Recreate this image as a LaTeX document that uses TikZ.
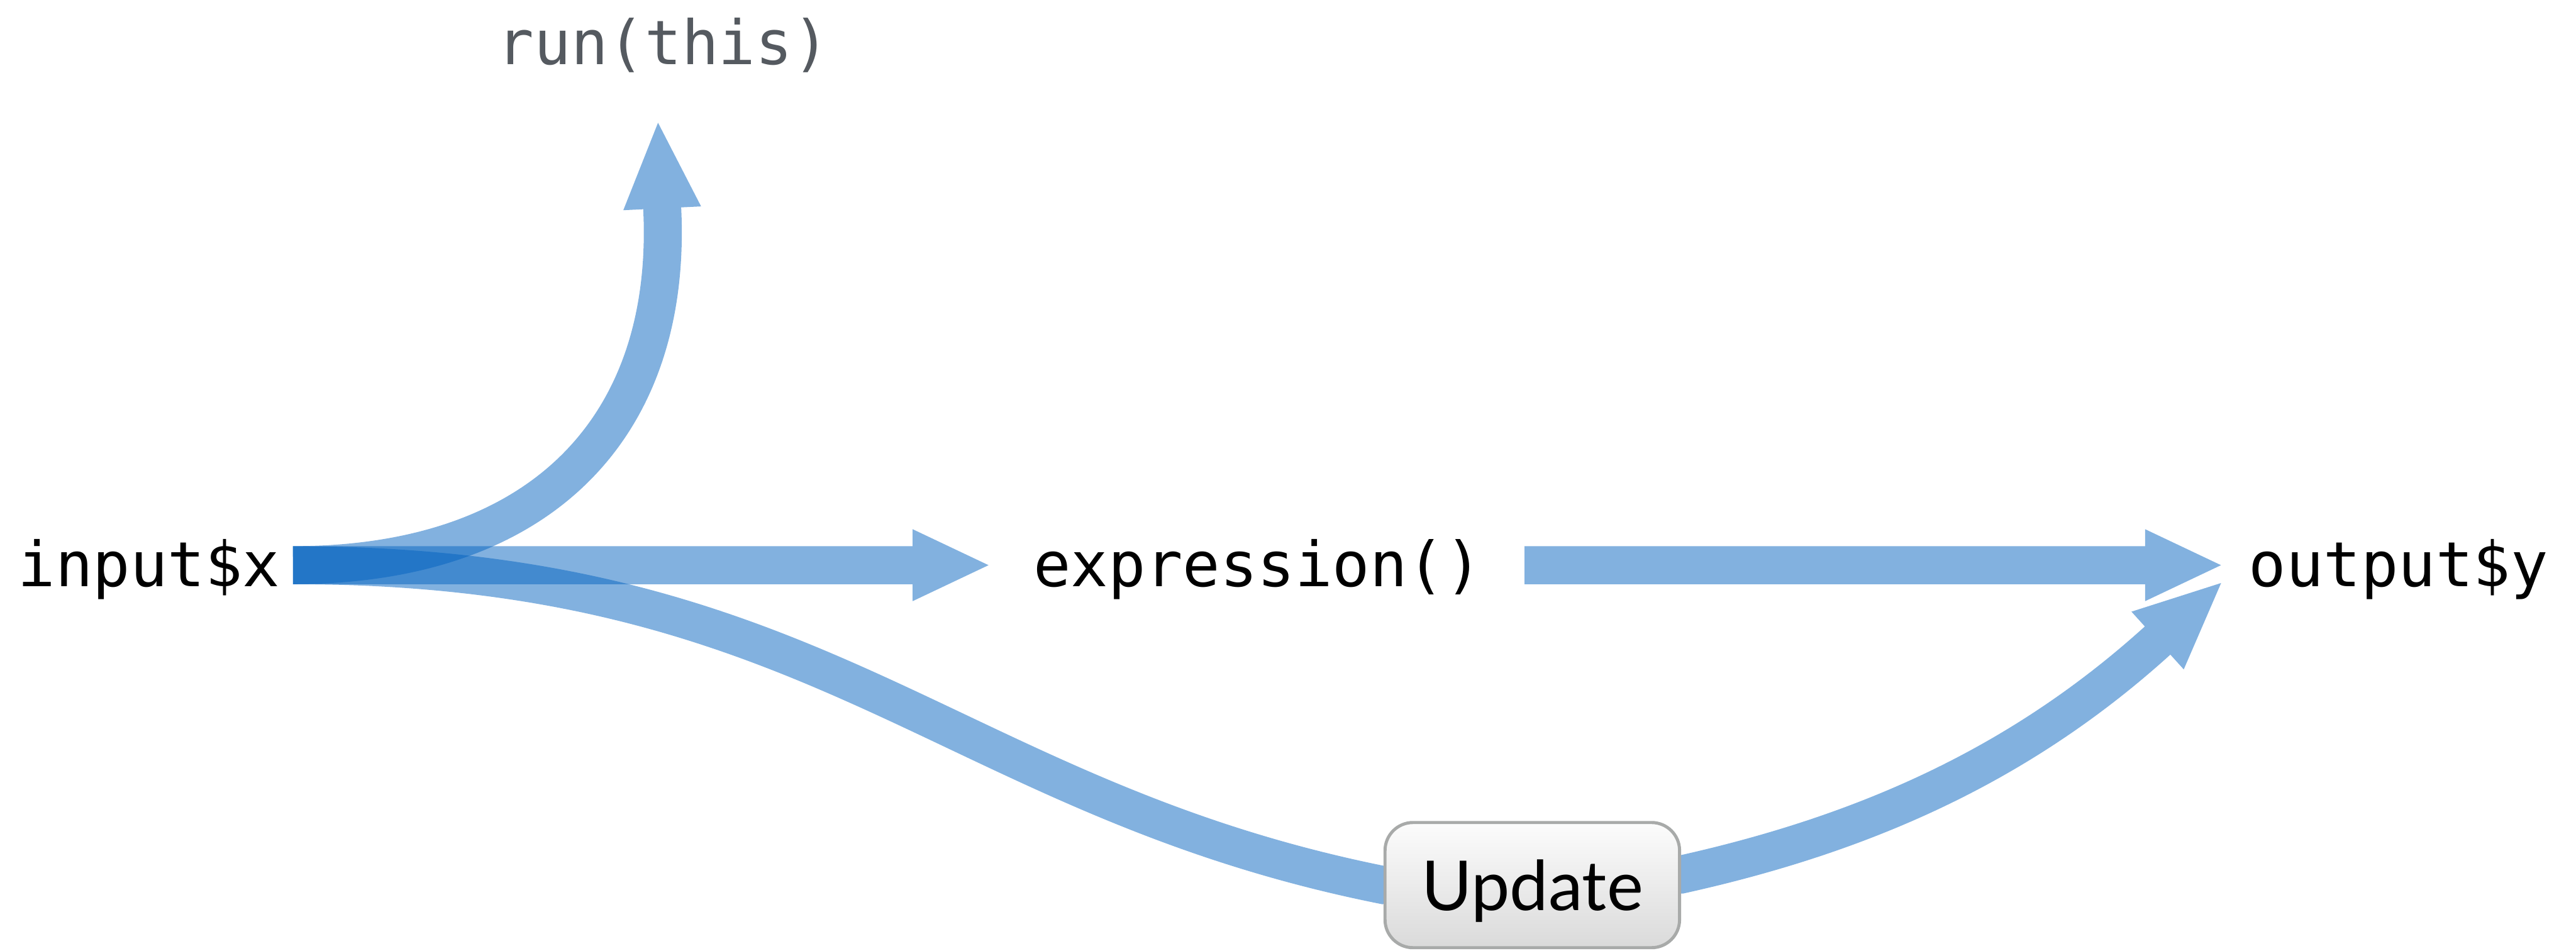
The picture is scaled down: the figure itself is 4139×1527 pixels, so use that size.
\documentclass[tikz,border=0pt]{standalone}
\usepackage{fontspec}
\setmonofont{DejaVu Sans Mono}
\newfontfamily\btnfont{Lato}
\usetikzlibrary{arrows.meta, backgrounds}
\definecolor{flowblue}{RGB}{5,99,191}
\definecolor{rungray}{RGB}{85,90,96}
\definecolor{btnline}{RGB}{168,170,169}
\definecolor{btntop}{RGB}{252,252,252}
\definecolor{btnbot}{RGB}{218,218,218}

\begin{document}
\begin{tikzpicture}[x=0.01cm, y=-0.01cm,
  code/.style={font=\ttfamily\fontsize{28.4}{30}\selectfont, text height=0.68cm, text depth=0pt, inner ysep=0pt, inner xsep=0.2cm},
  flow/.style={draw=flowblue, line width=0.61cm, -{Triangle[length=1.26cm, width=1.05cm]}},
  bend flow/.style={flow, -{Triangle[length=1.43cm, width=1.13cm]}},
  button/.style={rounded corners=0.45cm, draw=btnline, line width=0.05cm, top color=btntop, bottom color=btnbot,
    minimum width=4.73cm, minimum height=2.01cm, font=\btnfont\fontsize{31.5}{33}\selectfont, text height=0.82cm, text depth=0pt}]
  \useasboundingbox (0,0) rectangle (4139,1527);

  % source, conductor, endpoint
  \node[code] (in) at (239.5,908) {input\$x};
  \node[code, inner xsep=0.67cm] (ex) at (2021,908) {expression()};
  \node[code, inner xsep=0.4cm] (out) at (3854,908) {output\$y};
  \node[code, font=\ttfamily\fontsize{28}{29}\selectfont, text=rungray, anchor=base, inner ysep=0.87cm] (run) at (1066,104) {run(this)};
  \node[button] (upd) at (2462,1422) {Update};

  % arrows behind the labels, each one its own group
  \begin{pgfonlayer}{background}
    \begin{scope}[transparency group, opacity=0.5]
      \draw[flow] (in) -- (ex);
    \end{scope}
    \begin{scope}[transparency group, opacity=0.5]
      \draw[flow] (ex) -- (out);
    \end{scope}
    \begin{scope}[transparency group, opacity=0.5]
      \draw[bend flow] (in.east) .. controls +(400,0) and +(17,350) .. ([shift={(-0.02cm,-1.43cm)}]run.south)
        -- ([xshift=-0.09cm]run.south);
    \end{scope}
    \begin{scope}[transparency group, opacity=0.5]
      \draw[bend flow] (in.east) .. controls +(850,0) and +(-700,-140) .. (upd.west)
        -- ([yshift=0.17cm]upd.east) .. controls +(293,-65) and +(-222,201) .. ([shift={(-1.06cm,-1.21cm)}]out.west)
        -- ([yshift=-0.25cm]out.west);
    \end{scope}
  \end{pgfonlayer}
\end{tikzpicture}
\end{document}
